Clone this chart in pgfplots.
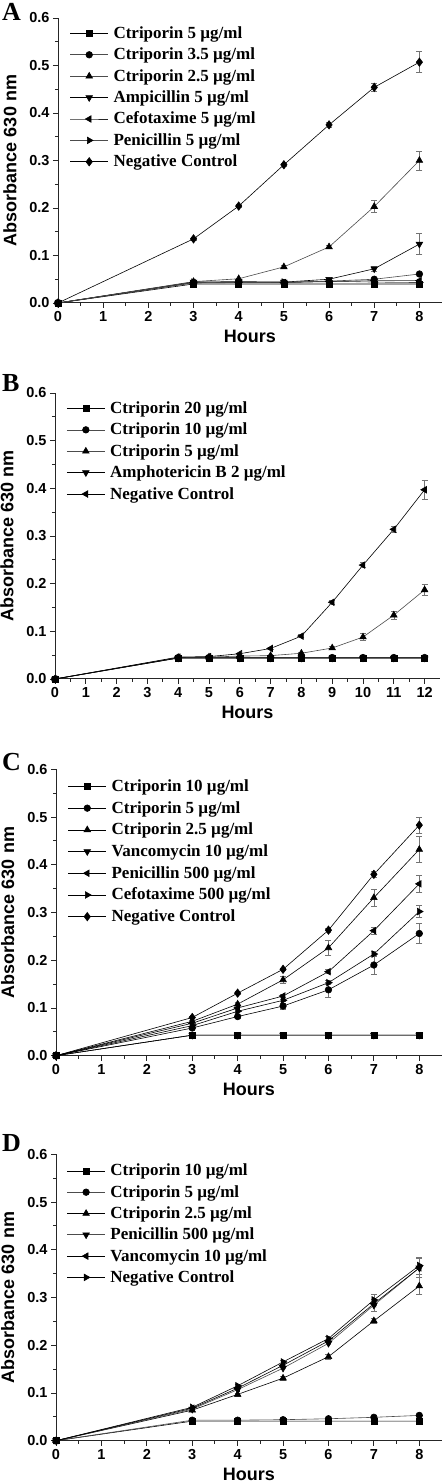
\documentclass[border=0pt]{standalone}
\usepackage{fontspec}
\setmainfont{Liberation Sans}
\newfontfamily\lser{Liberation Serif}
\usepackage{pgfplots}
\pgfplotsset{compat=1.18}
\colorlet{lg}{black!70}
\pgfplotsset{
 panel/.style={
  scale only axis,
  axis lines*=left,
  axis line style={-, line width=1bp, black!85},
  ymin=0, ymax=0.6, xmin=0,
  ytick={0,0.1,0.2,0.3,0.4,0.5,0.6},
  minor y tick num=1, minor x tick num=1,
  tick align=outside,
  major tick length=5bp, minor tick length=3bp,
  every tick/.style={line width=0.9bp, black!85},
  y tick label style={/pgf/number format/.cd, fixed, fixed zerofill, precision=1, /tikz/.cd},
  /pgf/number format/assume math mode=true,
  tick label style={font=\fontsize{14.5bp}{16bp}\selectfont\bfseries},
  every axis y label/.style={at={(axis description cs:-0.125,0.5)}, rotate=90, anchor=center, font=\fontsize{18bp}{20bp}\selectfont\bfseries},
  every axis x label/.style={at={(axis description cs:0.5,0)}, anchor=base, yshift=-40bp, font=\fontsize{18bp}{20bp}\selectfont\bfseries},
  ylabel={Absorbance 630 nm}, xlabel={Hours},
  legend cell align=left,
  legend image post style={xscale=2.235, every mark/.prefix style={xscale=0.4474}},
  legend style={draw=none, fill=none, inner sep=0pt, outer sep=0pt, anchor=north west,
    font=\lser\fontsize{17bp}{19bp}\selectfont\bfseries, column sep=5bp,
    nodes={inner sep=0pt, text height=13bp, text depth=3bp}},
  clip=false,
  error bars/y dir=both, error bars/y explicit,
  error bars/error bar style={line width=0.6bp, black!55},
  error bars/error mark options={rotate=90, mark size=3bp, line width=0.6bp, black!55},
 },
 ser/.style={line width=0.6bp, mark size=3.3bp, mark options={solid, draw=black, fill=black}},
 sq/.style={ser, mark=square*, mark size=3bp},
 ci/.style={ser, mark=*, mark size=3.3bp},
 tu/.style={ser, mark=triangle*, mark size=3.8bp},
 td/.style={ser, mark=triangle*, mark size=3.8bp, mark options={rotate=180, solid, draw=black, fill=black}},
 tl/.style={ser, mark=triangle*, mark size=3.8bp, mark options={rotate=90, solid, draw=black, fill=black}},
 tr/.style={ser, mark=triangle*, mark size=3.8bp, mark options={rotate=-90, solid, draw=black, fill=black}},
 di/.style={ser, mark=diamond*, mark size=4.2bp},
}
\begin{document}
\begin{tikzpicture}
\useasboundingbox (0,0) rectangle (442bp,1481bp);
% ---------------- A ----------------
\begin{axis}[panel, at={(58bp,1178bp)}, anchor=south west, width=384bp, height=285bp,
  xmax=8.5, xtick={0,1,2,3,4,5,6,7,8},
  legend style={at={(axis description cs:0.031,0.974)}, row sep=5.4bp}]
\addplot[sq, black] coordinates {(0,0) (3,0.040) (4,0.040) (5,0.040) (6,0.040) (7,0.040) (8,0.040)};
\addlegendentry{Ctriporin 5 µg/ml}
\addplot[ci, lg] coordinates {(0,0) (3,0.042) (4,0.043) (5,0.043) (6,0.046) (7,0.050) (8,0.061)};
\addlegendentry{Ctriporin 3.5 µg/ml}
\addplot[tu, lg] coordinates {(0,0) (3,0.045) (4,0.051) (5,0.076) +- (0,0.003) (6,0.118) +- (0,0.003) (7,0.203) +- (0,0.013) (8,0.300) +- (0,0.020)};
\addlegendentry{Ctriporin 2.5 µg/ml}
\addplot[td, black] coordinates {(0,0) (3,0.044) (4,0.045) (5,0.044) (6,0.050) (7,0.072) +- (0,0.005) (8,0.124) +- (0,0.022)};
\addlegendentry{Ampicillin 5 µg/ml}
\addplot[tl, black!85] coordinates {(0,0) (3,0.043) (4,0.043) (5,0.043) (6,0.045) (7,0.047) (8,0.047)};
\addlegendentry{Cefotaxime 5 µg/ml}
\addplot[tr, lg] coordinates {(0,0) (3,0.044) (4,0.044) (5,0.044) (6,0.046) (7,0.044) (8,0.043)};
\addlegendentry{Penicillin 5 µg/ml}
\addplot[di, black] coordinates {(0,0) (3,0.135) +- (0,0.003) (4,0.204) +- (0,0.003) (5,0.291) +- (0,0.003) (6,0.375) +- (0,0.005) (7,0.454) +- (0,0.008) (8,0.507) +- (0,0.022)};
\addlegendentry{Negative Control}
\end{axis}
\node[font=\lser\bfseries\fontsize{26bp}{28bp}\selectfont, anchor=base west, inner sep=0pt] at (2bp,1460bp) {A};
% ---------------- B ----------------
\begin{axis}[panel, at={(55bp,802bp)}, anchor=south west, width=385bp, height=286bp,
  xmax=12.5, xtick={0,1,2,3,4,5,6,7,8,9,10,11,12},
  legend style={at={(axis description cs:0.030,0.974)}, row sep=5.4bp}]
\addplot[sq, black] coordinates {(0,0) (4,0.044) (5,0.044) (6,0.044) (7,0.044) (8,0.044) (9,0.044) (10,0.044) (11,0.044) (12,0.044)};
\addlegendentry{Ctriporin 20 µg/ml}
\addplot[ci, lg] coordinates {(0,0) (4,0.045) (5,0.045) (6,0.045) (7,0.045) (8,0.045) (9,0.045) (10,0.045) (11,0.045) (12,0.045)};
\addlegendentry{Ctriporin 10 µg/ml}
\addplot[tu, lg] coordinates {(0,0) (4,0.045) (5,0.046) (6,0.048) (7,0.049) (8,0.054) +- (0,0.002) (9,0.065) +- (0,0.003) (10,0.088) +- (0,0.007) (11,0.134) +- (0,0.008) (12,0.187) +- (0,0.012)};
\addlegendentry{Ctriporin 5 µg/ml}
\addplot[td, black] coordinates {(0,0) (4,0.044) (5,0.044) (6,0.044) (7,0.044) (8,0.044) (9,0.044) (10,0.044) (11,0.044) (12,0.044)};
\addlegendentry{Amphotericin B 2 µg/ml}
\addplot[tl, black] coordinates {(0,0) (4,0.046) (5,0.047) (6,0.053) (7,0.064) +- (0,0.002) (8,0.090) +- (0,0.003) (9,0.161) +- (0,0.004) (10,0.239) +- (0,0.005) (11,0.314) +- (0,0.007) (12,0.397) +- (0,0.019)};
\addlegendentry{Negative Control}
\end{axis}
\node[font=\lser\bfseries\fontsize{26bp}{28bp}\selectfont, anchor=base west, inner sep=0pt] at (2bp,1089bp) {B};
% ---------------- C ----------------
\begin{axis}[panel, at={(56bp,425.3bp)}, anchor=south west, width=386bp, height=286.4bp,
  xmax=8.5, xtick={0,1,2,3,4,5,6,7,8},
  legend style={at={(axis description cs:0.031,0.968)}, row sep=5.7bp}]
\addplot[sq, black] coordinates {(0,0) (3,0.043) (4,0.043) (5,0.043) (6,0.043) (7,0.043) (8,0.043)};
\addlegendentry{Ctriporin 10 µg/ml}
\addplot[ci, black] coordinates {(0,0) (3,0.058) +- (0,0.002) (4,0.082) +- (0,0.003) (5,0.104) +- (0,0.006) (6,0.138) +- (0,0.016) (7,0.190) +- (0,0.020) (8,0.256) +- (0,0.021)};
\addlegendentry{Ctriporin 5 µg/ml}
\addplot[tu, black] coordinates {(0,0) (3,0.072) +- (0,0.002) (4,0.108) +- (0,0.003) (5,0.159) +- (0,0.007) (6,0.226) +- (0,0.016) (7,0.331) +- (0,0.017) (8,0.432) +- (0,0.027)};
\addlegendentry{Ctriporin 2.5 µg/ml}
\addplot[td, black] coordinates {(0,0) (3,0.043) (4,0.043) (5,0.043) (6,0.043) (7,0.043) (8,0.043)};
\addlegendentry{Vancomycin 10 µg/ml}
\addplot[tl, black] coordinates {(0,0) (3,0.068) (4,0.100) (5,0.125) +- (0,0.003) (6,0.176) +- (0,0.004) (7,0.262) +- (0,0.007) (8,0.360) +- (0,0.017)};
\addlegendentry{Penicillin 500 µg/ml}
\addplot[tr, black] coordinates {(0,0) (3,0.063) (4,0.093) (5,0.116) +- (0,0.003) (6,0.153) +- (0,0.004) (7,0.213) +- (0,0.005) (8,0.302) +- (0,0.013)};
\addlegendentry{Cefotaxime 500 µg/ml}
\addplot[di, black] coordinates {(0,0) (3,0.080) +- (0,0.002) (4,0.131) +- (0,0.003) (5,0.181) +- (0,0.003) (6,0.263) +- (0,0.004) (7,0.380) +- (0,0.006) (8,0.483) +- (0,0.017)};
\addlegendentry{Negative Control}
\end{axis}
\node[font=\lser\bfseries\fontsize{26bp}{28bp}\selectfont, anchor=base west, inner sep=0pt] at (2bp,710bp) {C};
% ---------------- D ----------------
\begin{axis}[panel, at={(56bp,40.3bp)}, anchor=south west, width=386bp, height=286.4bp,
  xmax=8.5, xtick={0,1,2,3,4,5,6,7,8},
  legend style={at={(axis description cs:0.028,0.970)}, row sep=5.3bp}]
\addplot[sq, black] coordinates {(0,0) (3,0.041) (4,0.041) (5,0.041) (6,0.041) (7,0.041) (8,0.041)};
\addlegendentry{Ctriporin 10 µg/ml}
\addplot[ci, lg] coordinates {(0,0) (3,0.043) (4,0.043) (5,0.044) (6,0.046) (7,0.049) (8,0.053)};
\addlegendentry{Ctriporin 5 µg/ml}
\addplot[tu, black] coordinates {(0,0) (3,0.064) (4,0.097) +- (0,0.003) (5,0.131) +- (0,0.004) (6,0.176) +- (0,0.005) (7,0.251) +- (0,0.006) (8,0.324) +- (0,0.018)};
\addlegendentry{Ctriporin 2.5 µg/ml}
\addplot[td, lg] coordinates {(0,0) (3,0.066) (4,0.107) (5,0.152) (6,0.204) (7,0.284) +- (0,0.012) (8,0.362) +- (0,0.020)};
\addlegendentry{Penicillin 500 µg/ml}
\addplot[tl, black] coordinates {(0,0) (3,0.068) (4,0.110) (5,0.158) (6,0.209) (7,0.287) (8,0.362)};
\addlegendentry{Vancomycin 10 µg/ml}
\addplot[tr, black] coordinates {(0,0) (3,0.070) (4,0.115) +- (0,0.003) (5,0.165) +- (0,0.003) (6,0.214) +- (0,0.004) (7,0.295) +- (0,0.012) (8,0.367) +- (0,0.018)};
\addlegendentry{Negative Control}
\end{axis}
\node[font=\lser\bfseries\fontsize{26bp}{28bp}\selectfont, anchor=base west, inner sep=0pt] at (2bp,329bp) {D};
\end{tikzpicture}
\end{document}
